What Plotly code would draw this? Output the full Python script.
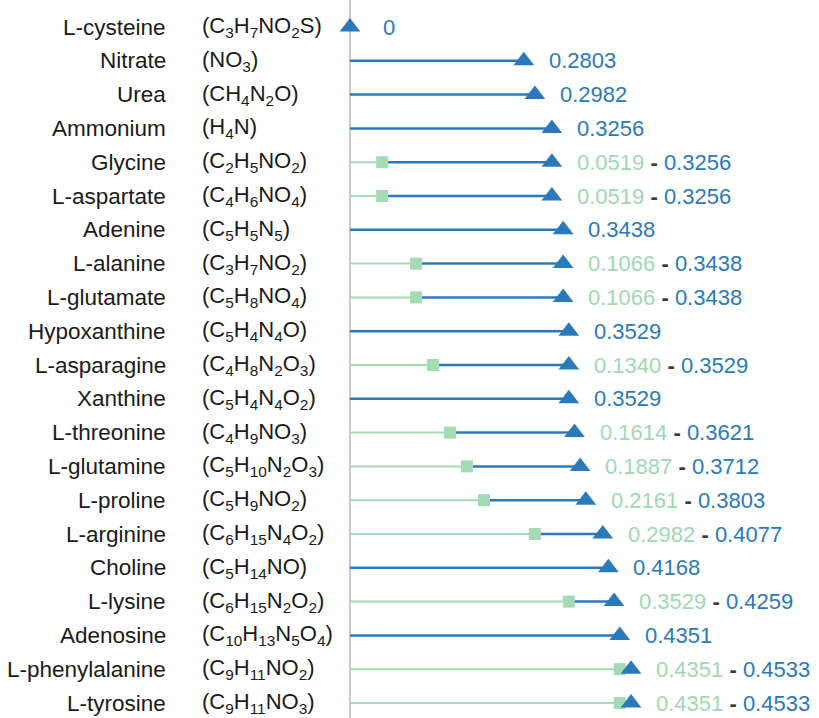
import plotly.graph_objects as go

names = ["L-cysteine", "Nitrate", "Urea", "Ammonium", "Glycine", "L-aspartate", "Adenine",
         "L-alanine", "L-glutamate", "Hypoxanthine", "L-asparagine", "Xanthine", "L-threonine",
         "L-glutamine", "L-proline", "L-arginine", "Choline", "L-lysine", "Adenosine",
         "L-phenylalanine", "L-tyrosine"]
formulas = ["(C<sub>3</sub>H<sub>7</sub>NO<sub>2</sub>S)", "(NO<sub>3</sub>)", "(CH<sub>4</sub>N<sub>2</sub>O)",
            "(H<sub>4</sub>N)", "(C<sub>2</sub>H<sub>5</sub>NO<sub>2</sub>)", "(C<sub>4</sub>H<sub>6</sub>NO<sub>4</sub>)",
            "(C<sub>5</sub>H<sub>5</sub>N<sub>5</sub>)", "(C<sub>3</sub>H<sub>7</sub>NO<sub>2</sub>)",
            "(C<sub>5</sub>H<sub>8</sub>NO<sub>4</sub>)", "(C<sub>5</sub>H<sub>4</sub>N<sub>4</sub>O)",
            "(C<sub>4</sub>H<sub>8</sub>N<sub>2</sub>O<sub>3</sub>)", "(C<sub>5</sub>H<sub>4</sub>N<sub>4</sub>O<sub>2</sub>)",
            "(C<sub>4</sub>H<sub>9</sub>NO<sub>3</sub>)", "(C<sub>5</sub>H<sub>10</sub>N<sub>2</sub>O<sub>3</sub>)",
            "(C<sub>5</sub>H<sub>9</sub>NO<sub>2</sub>)", "(C<sub>6</sub>H<sub>15</sub>N<sub>4</sub>O<sub>2</sub>)",
            "(C<sub>5</sub>H<sub>14</sub>NO)", "(C<sub>6</sub>H<sub>15</sub>N<sub>2</sub>O<sub>2</sub>)",
            "(C<sub>10</sub>H<sub>13</sub>N<sub>5</sub>O<sub>4</sub>)", "(C<sub>9</sub>H<sub>11</sub>NO<sub>2</sub>)",
            "(C<sub>9</sub>H<sub>11</sub>NO<sub>3</sub>)"]
high = [0, 0.2803, 0.2982, 0.3256, 0.3256, 0.3256, 0.3438, 0.3438, 0.3438, 0.3529, 0.3529, 0.3529,
        0.3621, 0.3712, 0.3803, 0.4077, 0.4168, 0.4259, 0.4351, 0.4533, 0.4533]
low = [None, None, None, None, 0.0519, 0.0519, None, 0.1066, 0.1066, None, 0.1340, None,
       0.1614, 0.1887, 0.2161, 0.2982, None, 0.3529, None, 0.4351, 0.4351]

BLUE = "#2a7abb"
GREEN = "#a3dbb4"
GREEN_TXT = "#a0d8b0"
DASH = "#3a3a3a"
FONT = "Liberation Sans, Arial, sans-serif"

n = len(names)
ys = list(range(n))

gx, gy, bx, by = [], [], [], []
for i in range(n):
    if low[i] is not None:
        gx += [0, low[i], None]; gy += [i, i, None]
        bx += [low[i], high[i], None]; by += [i, i, None]
    elif high[i] > 0:
        bx += [0, high[i], None]; by += [i, i, None]

fig = go.Figure()
fig.add_trace(go.Scatter(x=gx, y=gy, mode="lines", line=dict(color=GREEN, width=2), hoverinfo="skip"))
fig.add_trace(go.Scatter(x=bx, y=by, mode="lines", line=dict(color=BLUE, width=2.5), hoverinfo="skip"))
lx = [v for v in low if v is not None]
ly = [i for i, v in enumerate(low) if v is not None]
fig.add_trace(go.Scatter(x=lx, y=ly, mode="markers",
                         marker=dict(symbol="square", size=12, color=GREEN), hoverinfo="skip"))
fig.add_trace(go.Scatter(x=high, y=ys, mode="markers",
                         marker=dict(symbol="triangle-up", size=18, color=BLUE), hoverinfo="skip"))

ann = []
for i in range(n):
    ann.append(dict(x=0.205, xref="paper", y=i, yref="y", text=names[i], showarrow=False,
                    xanchor="right", font=dict(size=22.5, color="#1a1a1a", family=FONT)))
    ann.append(dict(x=0.244, xref="paper", y=i, yref="y", text=formulas[i], showarrow=False,
                    xanchor="left", font=dict(size=22, color="#1a1a1a", family=FONT)))
    hv = f"{high[i]:.4f}" if high[i] > 0 else "0"
    if low[i] is not None:
        txt = (f'<span style="color:{GREEN_TXT}">{low[i]:.4f}</span> '
               f'<span style="color:{DASH}"><b>-</b></span> '
               f'<span style="color:{BLUE}">{hv}</span>')
    else:
        txt = f'<span style="color:{BLUE}">{hv}</span>'
    ann.append(dict(x=high[i], y=i, xref="x", yref="y", text=txt, showarrow=False,
                    xanchor="left", xshift=23 if high[i] > 0 else 31,
                    font=dict(size=22, color=BLUE, family=FONT)))

fig.update_layout(
    width=819, height=718, margin=dict(l=0, r=0, t=0, b=0),
    paper_bgcolor="white", plot_bgcolor="white", showlegend=False,
    xaxis=dict(range=[-350 / 620, 469 / 620], visible=False, fixedrange=True),
    yaxis=dict(range=[(718 - 27) / 33.8, -27 / 33.8], visible=False, fixedrange=True),
    shapes=[dict(type="line", xref="x", yref="paper", x0=0, x1=0, y0=0, y1=1,
                 line=dict(color="#c8c8c8", width=2), layer="below")],
    annotations=ann,
)
fig.write_html("out.html")
